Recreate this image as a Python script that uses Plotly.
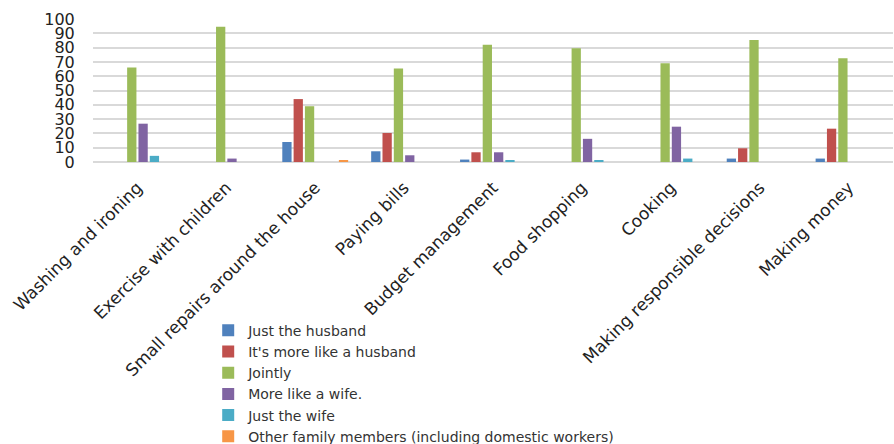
import plotly.graph_objects as go

categories = ["Washing and ironing", "Exercise with children", "Small repairs around the house",
              "Paying bills", "Budget management", "Food shopping", "Cooking",
              "Making responsible decisions", "Making money"]

just_husband = [0, 0, 14, 7.5, 1.7, 0, 0, 2.4, 2.4]
more_husband = [0, 0, 44, 20.3, 6.8, 0, 0, 9.6, 23.3]
jointly = [66, 94.6, 39, 65.4, 82, 79.6, 69, 85.4, 72.6]
more_wife = [26.8, 2.4, 0, 4.7, 6.8, 16.2, 24.7, 0, 0]
just_wife = [4.3, 0, 0, 0, 1.3, 1, 2.4, 0, 0]
other_family = [0, 0, 1, 0, 0, 0, 0, 0, 0]

series = [
    ("Just the husband", just_husband, "#4F81BD"),
    ("It's more like a husband", more_husband, "#C0504D"),
    ("Jointly", jointly, "#9BBB59"),
    ("More like a wife.", more_wife, "#8064A2"),
    ("Just the wife", just_wife, "#4BACC6"),
    ("Other family members (including domestic workers)", other_family, "#F79646"),
]

fig = go.Figure()
for name, vals, color in series:
    fig.add_trace(go.Bar(x=categories, y=vals, name=name,
                         marker=dict(color=color, line=dict(width=0))))

FONT = "DejaVu Sans"
fig.update_layout(
    width=894, height=444,
    margin=dict(l=93, r=1, t=19, b=281.5, autoexpand=False),
    paper_bgcolor="white", plot_bgcolor="white",
    barmode="group", bargap=0.236, bargroupgap=0.18,
    font=dict(family=FONT, color="#222222"),
    showlegend=True,
    legend=dict(x=0.144, xanchor="left", y=-1.068, yanchor="top",
                font=dict(family=FONT, size=14, color="#333333"),
                bgcolor="rgba(0,0,0,0)", traceorder="normal",
                itemclick=False),
    xaxis=dict(tickangle=-45, tickfont=dict(family=FONT, size=17, color="#222222"),
               showgrid=False, showline=False, zeroline=False,
               ticks="outside", ticklen=8, tickcolor="rgba(0,0,0,0)"),
    yaxis=dict(range=[0, 100], dtick=10, tick0=0,
               tickfont=dict(family=FONT, size=16, color="#222222"),
               showgrid=True, gridcolor="#D9D9D9", gridwidth=2,
               zeroline=True, zerolinecolor="#D9D9D9", zerolinewidth=2,
               showline=False, ticks="outside", ticklen=14, tickcolor="rgba(0,0,0,0)"),
)

fig.write_html("out.html")
